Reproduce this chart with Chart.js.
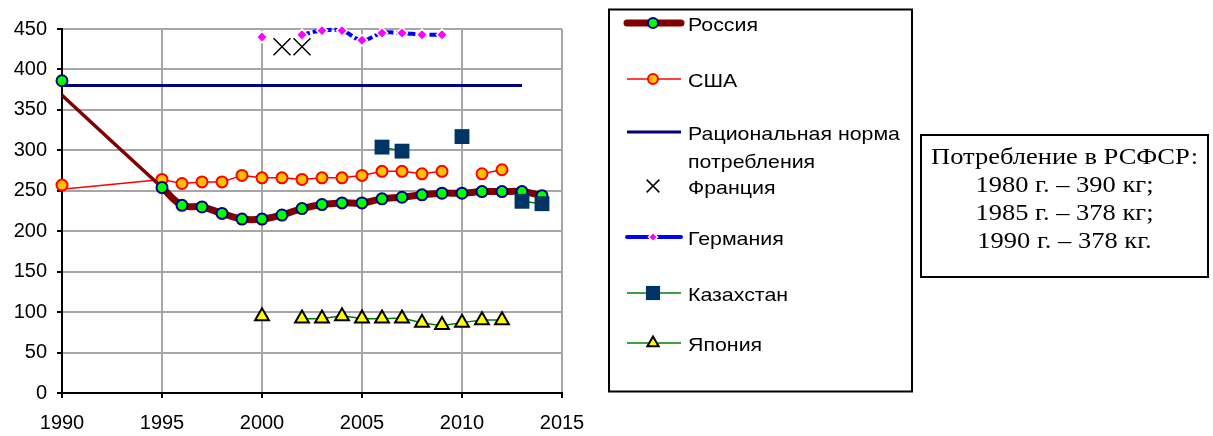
<!DOCTYPE html>
<html>
<head>
<meta charset="utf-8">
<script src="https://cdn.jsdelivr.net/npm/chart.js@4/dist/chart.umd.min.js"></script>
<style>
  body { margin: 0; background: #fff; }
  canvas { display: block; }
</style>
</head>
<body>
<canvas id="chart" width="1213" height="436"></canvas>
<script>
// данные, кг на человека в год
const ruYears = [1990, 1995, 1996, 1997, 1998, 1999, 2000, 2001, 2002, 2003, 2004, 2005, 2006, 2007, 2008, 2009, 2010, 2011, 2012, 2013, 2014];
const ruValues = [368, 254, 232, 230, 222, 215, 215, 220, 228, 233, 235, 235, 240, 242, 245, 247, 247, 249, 249, 249, 244];

const usaYears = [1990, 1995, 1996, 1997, 1998, 1999, 2000, 2001, 2002, 2003, 2004, 2005, 2006, 2007, 2008, 2009, 2010, 2011, 2012];
const usaValues = [252, 264, 259, 261, 261, 269, 266, 266, 264, 266, 266, 269, 274, 274, 271, 274, null, 271, 276];

// отдельные точки 1990 г.
const markYears = [1990];
const ruMark = [386];
const usaMark = [257];

const normYears = [1990, 2013];
const normValues = [380, 380];

const frYears = [2001, 2002];
const frValues = [428, 428];

const deYears = [2000, 2001, 2002, 2003, 2004, 2005, 2006, 2007, 2008, 2009];
const deValues = [440, null, 443, 448, 448, 436, 445, 445, 443, 443];

const kzYears = [2006, 2007, 2008, 2009, 2010, 2011, 2012, 2013, 2014];
const kzValues = [304, 299, null, null, 317, null, null, 237, 234];

const jpYears = [2000, 2001, 2002, 2003, 2004, 2005, 2006, 2007, 2008, 2009, 2010, 2011, 2012];
const jpValues = [95, null, 92, 92, 95, 92, 92, 92, 87, 84, 87, 90, 90];

const xTicks = [1990, 1995, 2000, 2005, 2010, 2015];
const yTicks = [0, 50, 100, 150, 200, 250, 300, 350, 400, 450];

const noteLines = ['Потребление в РСФСР:', '1980 г. – 390 кг;', '1985 г. – 378 кг;', '1990 г. – 378 кг.'];

function pts(years, values) {
  return years.map((x, i) => ({ x: x, y: values[i] }));
}

const tickFont = { family: '"Liberation Sans", Arial, sans-serif', size: 20 };

const styles = {
  ru: { pointStyle: 'circle', radius: 5.5, borderWidth: 2, fill: '#00ff00', stroke: '#000080', line: '#800000', lw: 7 },
  usa: { pointStyle: 'circle', radius: 5.5, borderWidth: 2, fill: '#ffc000', stroke: '#ff0000', line: '#ff0000', lw: 1.5 },
  norm: { line: '#000080', lw: 3 },
  fr: { pointStyle: 'crossRot', radius: 12, borderWidth: 1.5, fill: '#000', stroke: '#000' },
  de: { pointStyle: 'rectRot', radius: 5.5, borderWidth: 1.5, fill: '#ff00ff', stroke: '#ffffff', line: '#0000ff', lw: 4, dash: [8, 3] },
  kz: { pointStyle: 'rect', radius: 10.5, borderWidth: 0, fill: '#003366', stroke: '#003366', line: '#008000', lw: 1.5 },
  jp: { pointStyle: 'triangle', radius: 8, borderWidth: 2, fill: '#ffff00', stroke: '#000000', line: '#008000', lw: 1.5 }
};

// в легенде маркеры мельче
const legendItems = [
  { key: 'ru', text: ['Россия'], y: 23, r: 5 },
  { key: 'usa', text: ['США'], y: 79, r: 5 },
  { key: 'norm', text: ['Рациональная норма', 'потребления'], y: 132 },
  { key: 'fr', text: ['Франция'], y: 186, r: 9, noLine: true },
  { key: 'de', text: ['Германия'], y: 237, r: 4.5, solid: true },
  { key: 'kz', text: ['Казахстан'], y: 293, r: 10 },
  { key: 'jp', text: ['Япония'], y: 343, r: 6.5 }
];

function stretchText(c, text, x, y, sx) {
  c.save();
  c.translate(x, y);
  c.scale(sx, 1);
  c.fillText(text, 0, 0);
  c.restore();
}

function marker(c, st, r, x, y) {
  c.fillStyle = st.fill;
  c.strokeStyle = st.stroke;
  c.lineWidth = st.borderWidth;
  Chart.helpers.drawPoint(c, { pointStyle: st.pointStyle, radius: r, borderWidth: st.borderWidth, rotation: 0 }, x, y);
}

const sidePanels = {
  id: 'sidePanels',
  afterDraw(chart) {
    const c = chart.ctx;
    c.save();
    // рамка легенды
    c.strokeStyle = '#000';
    c.lineWidth = 2;
    c.strokeRect(609, 9.5, 303, 382);

    c.font = '19px "Liberation Sans", Arial, sans-serif';
    const sx = 212 / c.measureText('Рациональная норма').width;

    legendItems.forEach(item => {
      const st = styles[item.key];
      if (!item.noLine) {
        c.save();
        c.strokeStyle = st.line;
        c.lineWidth = st.lw;
        c.lineCap = item.key === 'ru' || item.key === 'de' ? 'round' : 'butt';
        if (st.dash && !item.solid) c.setLineDash(st.dash);
        c.beginPath();
        c.moveTo(627, item.y);
        c.lineTo(681, item.y);
        c.stroke();
        c.restore();
      }
      if (st.pointStyle) {
        c.save();
        marker(c, st, item.r, 653, item.y);
        c.restore();
      }
      c.fillStyle = '#000';
      c.textBaseline = 'middle';
      c.textAlign = 'left';
      item.text.forEach((t, i) => stretchText(c, t, 688, item.y + 3 + i * 28, sx));
    });

    // рамка с подписью
    c.strokeStyle = '#000';
    c.lineWidth = 2;
    c.strokeRect(921, 135, 287, 142);
    c.font = '23px "Liberation Serif", "Times New Roman", serif';
    const sx2 = 267 / c.measureText(noteLines[0]).width;
    c.fillStyle = '#000';
    c.textAlign = 'center';
    c.textBaseline = 'alphabetic';
    noteLines.forEach((t, i) => stretchText(c, t, 1064.5, 163.5 + i * 28.1, sx2));
    c.restore();
  }
};

const ctx = document.getElementById('chart').getContext('2d');
new Chart(ctx, {
  type: 'line',
  data: {
    datasets: [
      {
        label: 'Казахстан', data: pts(kzYears, kzValues), order: 0,
        borderColor: styles.kz.line, borderWidth: styles.kz.lw, tension: 0,
        pointStyle: 'rect', pointRadius: styles.kz.radius, pointBorderWidth: 0,
        pointBackgroundColor: styles.kz.fill, pointBorderColor: styles.kz.stroke
      },
      {
        label: 'Россия 1990', data: pts(markYears, ruMark), order: 1, showLine: false,
        pointRadius: styles.ru.radius, pointBorderWidth: styles.ru.borderWidth,
        pointBackgroundColor: styles.ru.fill, pointBorderColor: styles.ru.stroke
      },
      {
        label: 'Россия', data: pts(ruYears, ruValues), order: 2,
        borderColor: styles.ru.line, borderWidth: 7, tension: 0.4,
        segment: { borderWidth: s => s.p0DataIndex === 0 ? 3.5 : 7 },
        pointRadius: c => c.dataIndex === 0 ? 0 : styles.ru.radius,
        pointBorderWidth: styles.ru.borderWidth,
        pointBackgroundColor: styles.ru.fill, pointBorderColor: styles.ru.stroke
      },
      {
        label: 'США 1990', data: pts(markYears, usaMark), order: 3, showLine: false,
        pointRadius: styles.usa.radius, pointBorderWidth: styles.usa.borderWidth,
        pointBackgroundColor: styles.usa.fill, pointBorderColor: styles.usa.stroke
      },
      {
        label: 'США', data: pts(usaYears, usaValues), order: 4,
        borderColor: styles.usa.line, borderWidth: styles.usa.lw, tension: 0,
        pointRadius: c => c.dataIndex === 0 ? 0 : styles.usa.radius,
        pointBorderWidth: styles.usa.borderWidth,
        pointBackgroundColor: styles.usa.fill, pointBorderColor: styles.usa.stroke
      },
      {
        label: 'Рациональная норма потребления', data: pts(normYears, normValues), order: 5,
        borderColor: styles.norm.line, borderWidth: styles.norm.lw, pointRadius: 0, tension: 0
      },
      {
        label: 'Франция', data: pts(frYears, frValues), order: 6, showLine: false,
        pointStyle: 'crossRot', pointRadius: styles.fr.radius, pointBorderWidth: styles.fr.borderWidth,
        pointBorderColor: styles.fr.stroke, pointBackgroundColor: styles.fr.fill
      },
      {
        label: 'Германия', data: pts(deYears, deValues), order: 7,
        borderColor: styles.de.line, borderWidth: styles.de.lw, borderDash: styles.de.dash, tension: 0.4,
        pointStyle: 'rectRot', pointRadius: styles.de.radius, pointBorderWidth: styles.de.borderWidth,
        pointBackgroundColor: styles.de.fill, pointBorderColor: styles.de.stroke
      },
      {
        label: 'Япония', data: pts(jpYears, jpValues), order: 8,
        borderColor: styles.jp.line, borderWidth: styles.jp.lw, tension: 0.4,
        pointStyle: 'triangle', pointRadius: styles.jp.radius, pointBorderWidth: styles.jp.borderWidth,
        pointBackgroundColor: styles.jp.fill, pointBorderColor: styles.jp.stroke
      }
    ].map(d => Object.assign({ clip: false, spanGaps: false, fill: false }, d))
  },
  options: {
    responsive: false,
    animation: false,
    devicePixelRatio: 1,
    layout: { padding: { top: 29, right: 651, left: 0, bottom: 0 } },
    plugins: { legend: { display: false }, tooltip: { enabled: false } },
    scales: {
      x: {
        type: 'linear', min: xTicks[0], max: xTicks[xTicks.length - 1],
        afterBuildTicks: s => { s.ticks = xTicks.map(v => ({ value: v })); },
        afterFit: s => { s.height = 43; },
        ticks: { font: tickFont, color: '#000', padding: 13, maxRotation: 0, callback: v => String(v) },
        grid: { color: '#a6a6a6', lineWidth: 2, tickLength: 5, tickColor: '#000' },
        border: { color: '#000', width: 2 }
      },
      y: {
        min: yTicks[0], max: yTicks[yTicks.length - 1],
        afterBuildTicks: s => { s.ticks = yTicks.map(v => ({ value: v })); },
        afterFit: s => { s.width = 62; },
        ticks: { font: tickFont, color: '#000', padding: 10, callback: v => String(v) },
        grid: { color: '#a6a6a6', lineWidth: 2, tickLength: 5, tickColor: '#000' },
        border: { color: '#000', width: 2 }
      }
    }
  },
  plugins: [sidePanels]
});
</script>
</body>
</html>
